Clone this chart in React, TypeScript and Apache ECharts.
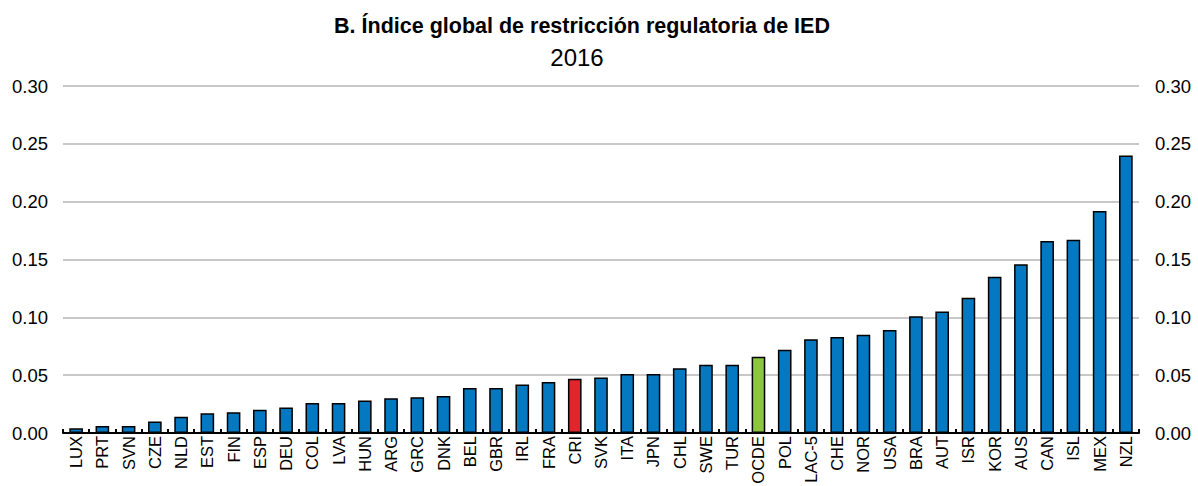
import React, { useEffect, useRef } from "react";
import * as echarts from "echarts";

const categories = ["LUX","PRT","SVN","CZE","NLD","EST","FIN","ESP","DEU","COL","LVA","HUN","ARG","GRC","DNK","BEL","GBR","IRL","FRA","CRI","SVK","ITA","JPN","CHL","SWE","TUR","OCDE","POL","LAC-5","CHE","NOR","USA","BRA","AUT","ISR","KOR","AUS","CAN","ISL","MEX","NZL"];
const values = [0.004,0.006,0.006,0.010,0.014,0.017,0.018,0.020,0.022,0.026,0.026,0.028,0.030,0.031,0.032,0.039,0.039,0.042,0.044,0.047,0.048,0.051,0.051,0.056,0.059,0.059,0.066,0.072,0.081,0.083,0.085,0.089,0.101,0.105,0.117,0.135,0.146,0.166,0.167,0.192,0.240];
const highlightRed = ["CRI"];
const highlightGreen = ["OCDE"];
const yTicks = { min: 0, max: 0.3, interval: 0.05 };
const titleText = "B. Índice global de restricción regulatoria de IED";
const subtitleText = "2016";

const BLUE = "#0479C1";
const RED = "#E2242B";
const GREEN = "#8CC63F";

export default function App() {
  const ref = useRef<HTMLDivElement>(null);
  useEffect(() => {
    document.body.style.margin = "0";
    const chart = echarts.init(ref.current!, null, { renderer: "svg" });
    const font = "'Liberation Sans', Arial, sans-serif";
    const yAxisCommon = {
      type: "value",
      min: yTicks.min,
      max: yTicks.max,
      interval: yTicks.interval,
      axisLine: { show: false },
      axisTick: { show: false },
      axisLabel: {
        color: "#000",
        fontSize: 18.5,
        fontFamily: font,
        formatter: (v: number) => v.toFixed(2),
      },
    };
    chart.setOption({
      animation: false,
      title: [
        {
          text: titleText,
          left: 577,
          top: 10,
          textAlign: "center",
          textStyle: { fontFamily: font, fontSize: 21.5, fontWeight: "bold", color: "#000" },
        },
        {
          text: subtitleText,
          left: 572,
          top: 40,
          textAlign: "center",
          textStyle: { fontFamily: font, fontSize: 24, fontWeight: "normal", color: "#000" },
        },
      ],
      grid: { left: 63, right: 59, top: 86, bottom: 53, containLabel: false, outerBoundsMode: "none" },
      xAxis: {
        type: "category",
        data: categories,
        axisLine: { show: true, lineStyle: { color: "#000", width: 2 } },
        axisTick: { show: true, inside: true, length: 4, lineStyle: { color: "#000", width: 2 } },
        axisLabel: {
          rotate: 90,
          interval: 0,
          color: "#000",
          fontSize: 16.5,
          fontFamily: font,
          margin: 3,
        },
      },
      yAxis: [
        {
          ...yAxisCommon,
          position: "left",
          axisLabel: { ...yAxisCommon.axisLabel, margin: 15 },
          splitLine: { show: true, lineStyle: { color: "#C8C8C8", width: 2 } },
        },
        {
          ...yAxisCommon,
          position: "right",
          axisLabel: { ...yAxisCommon.axisLabel, margin: 16 },
          splitLine: { show: false },
        },
      ],
      series: [
        {
          type: "bar",
          yAxisIndex: 0,
          barWidth: "52%",
          data: categories.map((c, i) => ({
            value: values[i],
            itemStyle: {
              color: highlightRed.includes(c) ? RED : highlightGreen.includes(c) ? GREEN : BLUE,
              borderColor: "#000",
              borderWidth: 1.5,
            },
          })),
        },
      ],
    });
    return () => chart.dispose();
  }, []);
  return <div ref={ref} style={{ width: 1198, height: 486 }} />;
}
